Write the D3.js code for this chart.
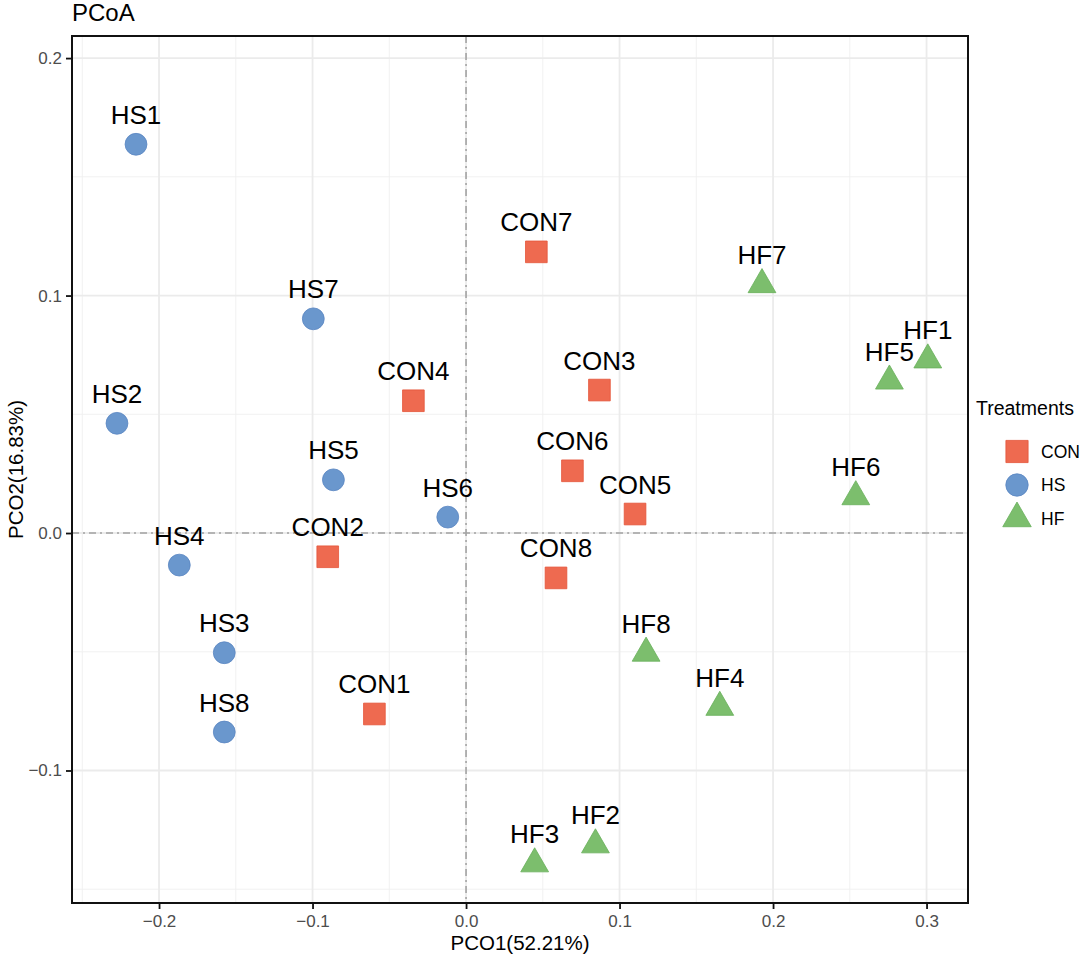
<!DOCTYPE html>
<html>
<head>
<meta charset="utf-8">
<script src="https://cdn.jsdelivr.net/npm/d3@7"></script>
<style>
  body { margin: 0; background: #fff; }
  text { font-family: "Liberation Sans", Arial, sans-serif; }
</style>
</head>
<body>
<svg id="plot_pcoa"></svg>
<script>
// sample scores
const sampleNames = ["HS1", "HS2", "HS3", "HS4", "HS5", "HS6", "HS7", "HS8",
                     "CON1", "CON2", "CON3", "CON4", "CON5", "CON6", "CON7", "CON8",
                     "HF1", "HF2", "HF3", "HF4", "HF5", "HF6", "HF7", "HF8"];
const treatment = ["HS", "HS", "HS", "HS", "HS", "HS", "HS", "HS",
                   "CON", "CON", "CON", "CON", "CON", "CON", "CON", "CON",
                   "HF", "HF", "HF", "HF", "HF", "HF", "HF", "HF"];
const pco1 = [-0.2150, -0.2274, -0.1575, -0.1868, -0.0864, -0.0119, -0.0995, -0.1575,
              -0.0597, -0.0901, 0.0869, -0.0343, 0.1101, 0.0693, 0.0458, 0.0586,
              0.3008, 0.0843, 0.0447, 0.1653, 0.2758, 0.2539, 0.1928, 0.1173];
const pco2 = [0.1637, 0.0462, -0.0504, -0.0135, 0.0224, 0.0067, 0.0902, -0.0838,
              -0.0762, -0.0100, 0.0602, 0.0557, 0.0080, 0.0262, 0.1184, -0.0189,
              0.0729, -0.1313, -0.1393, -0.0734, 0.0640, 0.0153, 0.1046, -0.0506];

const groups = ["CON", "HS", "HF"];
const xTicks = [-0.2, -0.1, 0.0, 0.1, 0.2, 0.3];
const yTicks = [-0.1, 0.0, 0.1, 0.2];
const xMinor = [-0.25, -0.15, -0.05, 0.05, 0.15, 0.25];
const yMinor = [-0.15, -0.05, 0.05, 0.15];

function getConfig() {
  let width = 1084;
  let height = 956;
  let margin = { top: 36, bottom: 53, left: 72, right: 116 };
  let bodyWidth = width - margin.left - margin.right;
  let bodyHeight = height - margin.top - margin.bottom;
  let container = d3.select("#plot_pcoa")
    .attr("width", width)
    .attr("height", height);
  return { width, height, margin, bodyWidth, bodyHeight, container };
}

function getScales(config) {
  let { margin, width, height } = config;
  let xScale = d3.scaleLinear()
    .domain([-0.2567, 0.3270])
    .range([margin.left, width - margin.right]);
  let yScale = d3.scaleLinear()
    .domain([-0.1558, 0.2093])
    .range([height - margin.bottom, margin.top]);
  return { xScale, yScale };
}

// shapes and colours per treatment
const shapes = { CON: d3.symbolSquare, HS: d3.symbolCircle, HF: d3.symbolTriangle };
const sizes = { CON: 470, HS: 375, HF: 335 };
const fills = { CON: "#EE6A50", HS: "#6A97CD", HF: "#7CBE6D" };
const strokes = { CON: "#E4553A", HS: "#5985C2", HF: "#68B05A" };

function drawPanel(scales, config) {
  let { container, margin, width, height } = config;
  let { xScale, yScale } = scales;
  let x0 = margin.left, x1 = width - margin.right;
  let y0 = margin.top, y1 = height - margin.bottom;

  container.append("rect")
    .attr("width", width).attr("height", height).attr("fill", "#fff");

  let grid = container.append("g");
  // minor grid
  grid.selectAll(".vminor").data(xMinor).enter().append("line")
    .attr("x1", d => xScale(d)).attr("x2", d => xScale(d))
    .attr("y1", y0).attr("y2", y1)
    .attr("stroke", "#EFEFEF").attr("stroke-width", 0.9);
  grid.selectAll(".hminor").data(yMinor).enter().append("line")
    .attr("y1", d => yScale(d)).attr("y2", d => yScale(d))
    .attr("x1", x0).attr("x2", x1)
    .attr("stroke", "#EFEFEF").attr("stroke-width", 0.9);
  // major grid
  grid.selectAll(".vmajor").data(xTicks).enter().append("line")
    .attr("x1", d => xScale(d)).attr("x2", d => xScale(d))
    .attr("y1", y0).attr("y2", y1)
    .attr("stroke", "#EBEBEB").attr("stroke-width", 1.8);
  grid.selectAll(".hmajor").data(yTicks).enter().append("line")
    .attr("y1", d => yScale(d)).attr("y2", d => yScale(d))
    .attr("x1", x0).attr("x2", x1)
    .attr("stroke", "#EBEBEB").attr("stroke-width", 1.8);

  // zero reference lines
  container.append("line")
    .attr("x1", xScale(0)).attr("x2", xScale(0)).attr("y1", y0).attr("y2", y1)
    .attr("stroke", "#A3A3A3").attr("stroke-width", 1.6)
    .attr("stroke-dasharray", "7,4,2,4");
  container.append("line")
    .attr("y1", yScale(0)).attr("y2", yScale(0)).attr("x1", x0).attr("x2", x1)
    .attr("stroke", "#A3A3A3").attr("stroke-width", 1.6)
    .attr("stroke-dasharray", "7,4,2,4");
}

function drawPoints(scales, config) {
  let { container } = config;
  let { xScale, yScale } = scales;
  let data = sampleNames.map((n, i) => ({ name: n, group: treatment[i], x: pco1[i], y: pco2[i] }));

  container.append("g").selectAll("path")
    .data(data).enter().append("path")
    .attr("transform", d => `translate(${xScale(d.x)},${yScale(d.y)})`)
    .attr("d", d => d3.symbol().type(shapes[d.group]).size(sizes[d.group])())
    .attr("fill", d => fills[d.group])
    .attr("stroke", d => strokes[d.group])
    .attr("stroke-width", 0.8);

  container.append("g").selectAll("text")
    .data(data).enter().append("text")
    .attr("x", d => xScale(d.x))
    .attr("y", d => yScale(d.y) - 20.5)
    .attr("text-anchor", "middle")
    .style("font-size", "26px")
    .attr("fill", "#000")
    .text(d => d.name);
}

function drawAxes(scales, config) {
  let { container, margin, width, height, bodyWidth, bodyHeight } = config;
  let { xScale, yScale } = scales;
  let fmt = d3.format(".1f");

  let xAxis = container.append("g")
    .attr("transform", `translate(0,${height - margin.bottom})`)
    .call(d3.axisBottom(xScale).tickValues(xTicks).tickFormat(fmt)
      .tickSize(6).tickPadding(6).tickSizeOuter(0));
  let yAxis = container.append("g")
    .attr("transform", `translate(${margin.left},0)`)
    .call(d3.axisLeft(yScale).tickValues(yTicks).tickFormat(fmt)
      .tickSize(6).tickPadding(4).tickSizeOuter(0));

  [xAxis, yAxis].forEach(a => {
    a.select(".domain").remove();
    a.selectAll(".tick line").attr("stroke", "#111").attr("stroke-width", 1.8);
    a.selectAll(".tick text")
      .attr("fill", "#4D4D4D")
      .style("font-size", "17px")
      .style("font-family", "'Liberation Sans', Arial, sans-serif");
  });

  // panel border
  container.append("rect")
    .attr("x", margin.left).attr("y", margin.top)
    .attr("width", bodyWidth).attr("height", bodyHeight)
    .attr("fill", "none").attr("stroke", "#111").attr("stroke-width", 2);

  container.append("text")
    .attr("x", margin.left + bodyWidth / 2).attr("y", 950)
    .attr("text-anchor", "middle").style("font-size", "20.5px")
    .text("PCO1(52.21%)");
  container.append("text")
    .attr("transform", `translate(22.5,${margin.top + bodyHeight / 2}) rotate(-90)`)
    .attr("text-anchor", "middle").style("font-size", "20.5px")
    .text("PCO2(16.83%)");
  container.append("text")
    .attr("x", margin.left).attr("y", 21)
    .style("font-size", "24px")
    .text("PCoA");
}

function drawLegend(config) {
  let { container } = config;
  let legend = container.append("g").attr("transform", "translate(976,0)");
  legend.append("text")
    .attr("x", 0).attr("y", 415)
    .style("font-size", "19.5px")
    .text("Treatments");
  let keyY = d3.scalePoint().domain(groups).range([451.5, 518.5]);
  let items = legend.selectAll(".key").data(groups).enter().append("g")
    .attr("transform", d => `translate(41,${keyY(d)})`);
  items.append("path")
    .attr("d", d => d3.symbol().type(shapes[d]).size(sizes[d] * 1.05)())
    .attr("fill", d => fills[d])
    .attr("stroke", d => strokes[d])
    .attr("stroke-width", 0.8);
  items.append("text")
    .attr("x", 24).attr("y", 6.3)
    .style("font-size", "17.5px")
    .text(d => d);
}

function drawChart() {
  let config = getConfig();
  let scales = getScales(config);
  drawPanel(scales, config);
  drawPoints(scales, config);
  drawAxes(scales, config);
  drawLegend(config);
}

drawChart();
</script>
</body>
</html>
